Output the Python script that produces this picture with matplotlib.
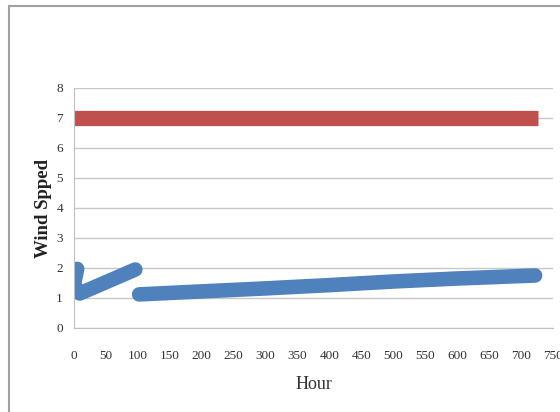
import numpy as np
import matplotlib.pyplot as plt
from matplotlib.patches import Rectangle

# survey wind speed (constant) and simulated wind speed
survey_hours = [0, 726]
survey_speed = [7, 7]

sim_hours = [5, 0, 9, 96, np.nan, 102, 200, 300, 400, 500, 600, 722]
sim_speed = [1.97, 1.45, 1.15, 1.95, np.nan, 1.12, 1.22, 1.32, 1.43, 1.55, 1.65, 1.75]

x_ticks = list(range(0, 751, 50))
y_ticks = list(range(0, 9))

plt.rcParams['font.family'] = ['Liberation Serif', 'DejaVu Serif']

figure = plt.figure(figsize=(5.6, 4.12), dpi=100)
figure.patches.append(Rectangle((9 / 560, -0.1), 1.2, 1 - 6 / 412 + 0.1,
                                transform=figure.transFigure, fill=False,
                                edgecolor="#a0a0a0", linewidth=1.5))

axis = figure.add_axes([74 / 560, 1 - 328 / 412, 479 / 560, 240 / 412])
axis.plot(survey_hours, survey_speed, color="#C0504D", linewidth=11,
          solid_capstyle="butt")
axis.plot(sim_hours, sim_speed, color="#4F81BD", linewidth=10.5,
          solid_capstyle="round", solid_joinstyle="round")

axis.set_xlim(0, 750)
axis.set_ylim(0, 8)
axis.set_xticks(x_ticks)
axis.set_yticks(y_ticks)
axis.tick_params(length=0, labelsize=9.5, colors="#333333")
axis.tick_params(axis="x", pad=16)
axis.tick_params(axis="y", pad=8)
axis.grid(axis="y", color="#c8c8c8", linewidth=1)
axis.set_axisbelow(True)
for side in ["top", "right"]:
    axis.spines[side].set_visible(False)
for side in ["left", "bottom"]:
    axis.spines[side].set_color("#c0c0c0")

axis.set_xlabel("Hour", fontsize=13, color="#333333", labelpad=10)
axis.set_ylabel("Wind Spped", fontsize=13.5, fontweight="bold", color="#222222")
axis.yaxis.set_label_coords(-0.045, 0.5)

figure.savefig("out.png", dpi=100)
